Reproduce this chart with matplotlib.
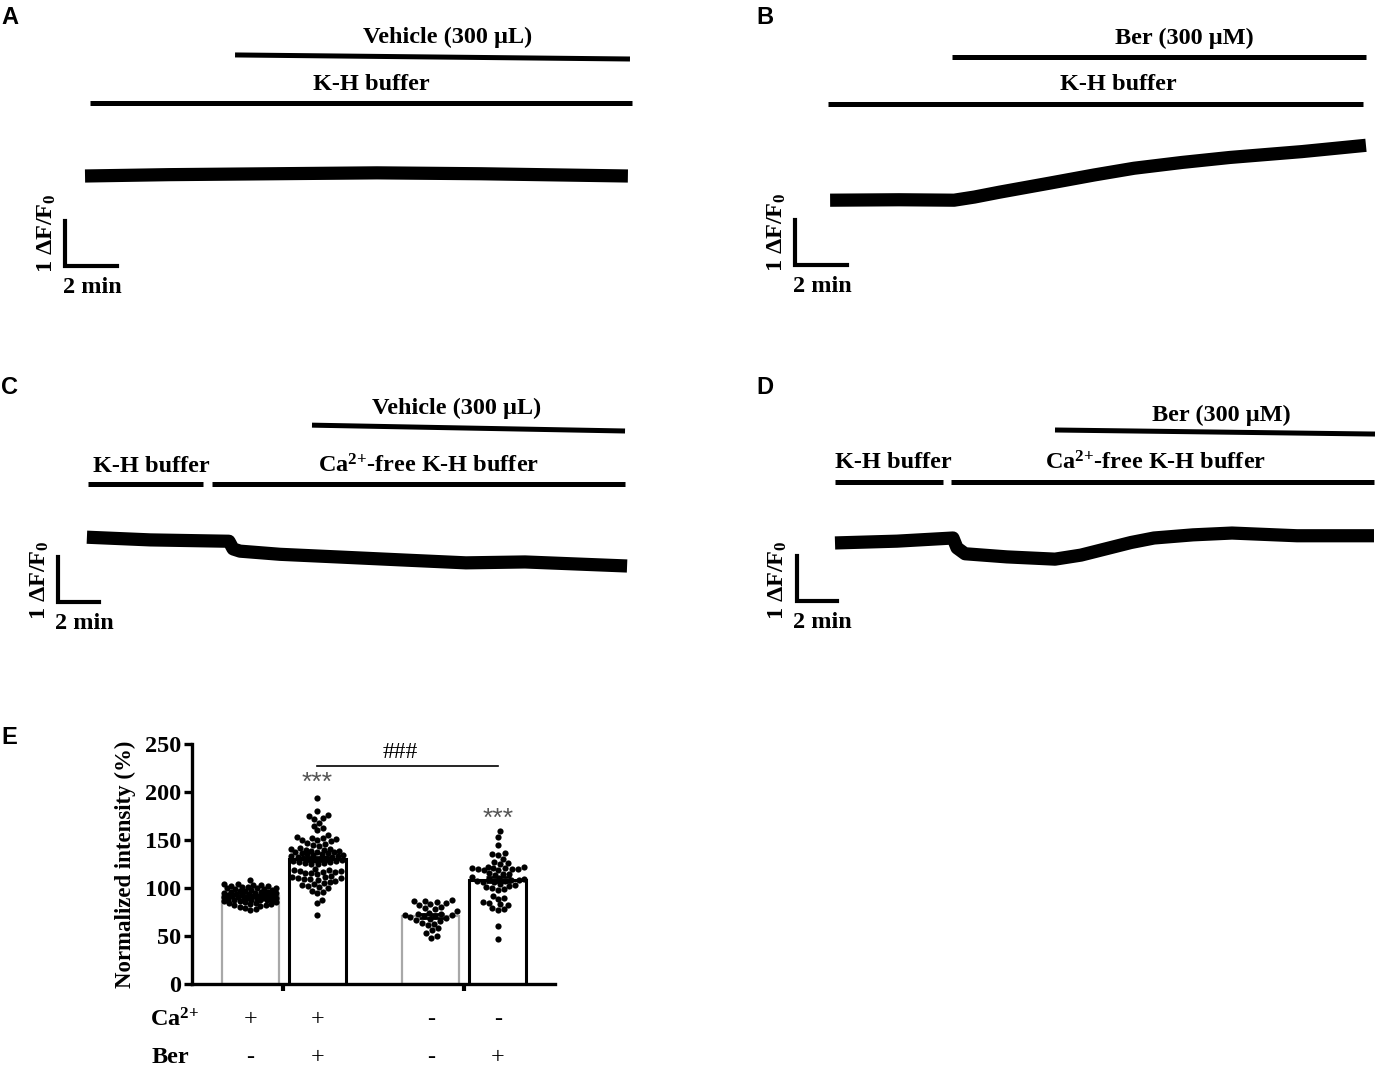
import numpy as np
import matplotlib
matplotlib.use('Agg')
import matplotlib.pyplot as plt

W, H = 1377, 1070

# traces: time (min) and dF/F0
trace_a_t = [0.77, 4.0, 8.0, 12.0, 16.0, 21.65]
trace_a_f = [2.00, 2.03, 2.05, 2.07, 2.05, 2.00]

trace_b_t = [1.35, 4.0, 6.12, 6.9, 7.88, 9.8, 11.5, 13.04, 14.9, 16.73, 19.5, 21.96]
trace_b_f = [1.44, 1.45, 1.44, 1.51, 1.62, 1.82, 2.0, 2.15, 2.28, 2.39, 2.52, 2.66]

trace_c_t = [1.41, 4.5, 8.34, 8.54, 8.88, 10.83, 13.7, 17.0, 19.9, 22.78, 27.76]
trace_c_f = [1.44, 1.38, 1.35, 1.18, 1.13, 1.06, 1.00, 0.93, 0.87, 0.89, 0.80]

trace_d_t = [1.9, 5.0, 7.8, 8.0, 8.4, 10.5, 12.9, 14.2, 15.45, 16.7, 17.85, 19.8, 21.75, 25.0, 28.85]
trace_d_f = [1.29, 1.33, 1.40, 1.18, 1.05, 0.98, 0.93, 1.02, 1.16, 1.30, 1.40, 1.47, 1.51, 1.45, 1.45]

# panel E: normalized intensity (%)
groups_e = ['Ca+ Ber-', 'Ca+ Ber+', 'Ca- Ber-', 'Ca- Ber+']
ca_signs = ['+', '+', '-', '-']
ber_signs = ['-', '+', '-', '+']
g1 = [108, 104, 104, 103, 103, 102, 102, 101, 101, 100, 100, 100, 99, 99, 98, 98,
      97, 97, 96, 96, 96, 95, 95, 95, 94, 94, 94, 93, 93, 93, 92, 92, 92, 91, 91,
      91, 90, 90, 90, 89, 89, 89, 88, 88, 88, 87, 87, 86, 86, 85, 85, 84, 84, 83,
      83, 82, 82, 81, 80, 79, 78, 77]
g2 = [194, 180, 176, 175, 173, 172, 168, 165, 162, 160,
      155, 153, 152, 152, 151, 150, 150, 149,
      147, 146, 145, 144,
      142, 141, 141, 140, 140, 139, 139, 138,
      137, 137, 136, 136, 135, 135, 134, 134,
      133, 133, 132, 132, 131, 131, 130, 130, 129, 129, 128, 128, 127, 127, 126, 126, 125, 125,
      120, 119, 119, 118, 118, 117, 117, 116, 116, 115,
      112, 111, 111, 110, 110, 109, 109, 108, 107, 106,
      105, 104, 103, 102, 101, 100,
      97, 96, 95,
      88, 84, 72]
g3 = [87, 86, 86, 85, 84, 83, 82, 80, 79, 78, 76, 74, 73, 73, 72, 72, 71, 71, 70,
      69, 68, 67, 66, 64, 63, 61, 58, 56, 53, 50, 48]
g4 = [159, 153, 145, 136, 135, 134, 130, 127, 126, 125,
      122, 122, 121, 121, 121, 120, 120, 120, 119, 119,
      116, 115, 115, 114,
      111, 110, 109, 109, 108, 108, 107, 107, 106, 106,
      104, 103, 102, 101, 100, 99, 98,
      92, 90, 89,
      85, 84, 83, 82,
      79, 78, 77,
      60, 47]
bar_pos = [0.0, 1.0, 2.69, 3.69]
y_ticks = [0, 50, 100, 150, 200, 250]

plt.rcParams['font.family'] = ['Liberation Serif', 'DejaVu Serif']
plt.rcParams['font.weight'] = 'bold'
plt.rcParams['axes.labelweight'] = 'bold'
plt.rcParams['mathtext.fontset'] = 'custom'
plt.rcParams['mathtext.rm'] = 'Liberation Serif:bold'
plt.rcParams['mathtext.it'] = 'Liberation Serif:bold'
plt.rcParams['mathtext.bf'] = 'Liberation Serif:bold'

fig = plt.figure(figsize=(W / 100, H / 100), dpi=100)
FS = 17.5


def trace_axes(box, corner, sx, sy):
    # box (left, top, right, bottom) px; corner = scale bar corner px
    l, t, r, b = box
    ax = fig.add_axes([l / W, 1 - b / H, (r - l) / W, (b - t) / H])
    ax.set_xlim((l - corner[0]) / sx, (r - corner[0]) / sx)
    ax.set_ylim((corner[1] - b) / sy, (corner[1] - t) / sy)
    ax.axis('off')
    return ax


def draw_panel(ax, t, f, bars, labels, sb_lbl):
    ax.plot(t, f, color='black', lw=9.5, solid_capstyle='butt', solid_joinstyle='round')
    for t0, t1, f0, f1 in bars:
        ax.plot([t0, t1], [f0, f1], color='black', lw=3.6, solid_capstyle='butt')
    for txt, x, y in labels:
        ax.text(x, y, txt, ha='center', va='center', fontsize=FS)
    # scale bar: 2 min x 1 dF/F0
    ax.plot([0, 0, 2], [1, 0, 0], color='black', lw=3, solid_joinstyle='miter')
    ax.text(sb_lbl[0], sb_lbl[1], r'1 ΔF/F$_0$', rotation=90, ha='center', va='center', fontsize=FS)
    ax.text(sb_lbl[2], sb_lbl[3], '2 min', ha='center', va='center', fontsize=FS)


CA_FREE = r'Ca$^{2{+}}$-free K-H buffer'

# A
ax_a = trace_axes((0, 0, 690, 330), (65, 266), 26.0, 45.0)
draw_panel(ax_a, trace_a_t, trace_a_f,
           [(6.54, 21.73, 4.69, 4.60), (0.96, 21.81, 3.62, 3.62)],
           [('Vehicle (300 μL)', 14.7, 5.07), ('K-H buffer', 11.8, 4.04)],
           (-0.69, 0.73, 1.04, -0.47))
# B
ax_b = trace_axes((690, 0, 1377, 330), (795, 265), 26.0, 45.0)
draw_panel(ax_b, trace_b_t, trace_b_f,
           [(6.04, 21.96, 4.62, 4.62), (1.27, 21.85, 3.58, 3.58)],
           [('Ber (300 μM)', 14.96, 5.04), ('K-H buffer', 12.42, 4.0)],
           (-0.69, 0.73, 1.04, -0.47))
# C
ax_c = trace_axes((0, 370, 690, 660), (58, 602), 20.5, 45.0)
draw_panel(ax_c, trace_c_t, trace_c_f,
           [(12.39, 27.66, 3.93, 3.80), (1.46, 7.07, 2.62, 2.62), (7.51, 27.66, 2.62, 2.62)],
           [('Vehicle (300 μL)', 19.46, 4.31), ('K-H buffer', 4.54, 3.02),
            (CA_FREE, 18.05, 3.02)],
           (-0.88, 0.49, 1.27, -0.47))
# D
ax_d = trace_axes((690, 370, 1377, 660), (797, 601), 20.0, 45.0)
draw_panel(ax_d, trace_d_t, trace_d_f,
           [(12.9, 28.9, 3.80, 3.71), (1.9, 7.3, 2.64, 2.64), (7.7, 28.85, 2.64, 2.64)],
           [('Ber (300 μM)', 21.2, 4.13), ('K-H buffer', 4.8, 3.07),
            (CA_FREE, 17.95, 3.07)],
           (-0.95, 0.47, 1.25, -0.47))

for lbl, x, y in [('A', 1, 18), ('B', 756, 18), ('C', 1, 388), ('D', 756, 388), ('E', 1, 737)]:
    fig.text(x / W, 1 - y / H, lbl, family='Liberation Sans', weight='bold',
             fontsize=17, ha='left', va='center')

# E
ax_e = fig.add_axes([192 / W, 1 - 984 / H, 363 / W, 240 / H])
ax_e.set_xlim(-0.866, 4.54)
ax_e.set_ylim(0, 250)
data_e = [g1, g2, g3, g4]
means = [np.mean(g) for g in data_e]
sems = [np.std(g, ddof=1) / np.sqrt(len(g)) for g in data_e]
edge_cols = ['#a8a8a8', 'black', '#a8a8a8', 'black']
edge_lw = [1.6, 2.2, 1.6, 2.2]
for p, m, ec, lw in zip(bar_pos, means, edge_cols, edge_lw):
    ax_e.bar(p, m, width=0.85, facecolor='white', edgecolor=ec, linewidth=lw, zorder=2)

px_x = ax_e.transData.transform((1, 0))[0] - ax_e.transData.transform((0, 0))[0]


def swarm(vals, d, maxw):
    ys = ax_e.transData.transform(np.column_stack([np.zeros(len(vals)), vals]))[:, 1]
    order = np.argsort(ys)
    placed = []
    offs = np.zeros(len(vals))
    for i in order:
        y = ys[i]
        cands = [0.0]
        for px, py in placed:
            dy = abs(py - y)
            if dy < d:
                dx = np.sqrt(d * d - dy * dy)
                cands += [px + dx, px - dx]
        cands = sorted(cands, key=abs)
        chosen = None
        for c in cands:
            if abs(c) > maxw:
                continue
            if all((c - px) ** 2 + (y - py) ** 2 >= d * d - 1e-6 for px, py in placed):
                chosen = c
                break
        if chosen is None:
            grid = np.linspace(-maxw, maxw, 41)
            score = [min([(g - px) ** 2 + (y - py) ** 2 for px, py in placed] + [1e9]) for g in grid]
            chosen = grid[int(np.argmax(score))]
        placed.append((chosen, y))
        offs[i] = chosen
    return offs / px_x


for p, g, d in zip(bar_pos, data_e, [5.5, 6.0, 6.5, 6.0]):
    xo = swarm(g, d, 26)
    ax_e.scatter(p + xo, g, s=20, color='black', linewidths=0, zorder=3)

ax_e.errorbar(bar_pos, means, yerr=sems, fmt='none', ecolor='black', elinewidth=2,
              capsize=9, capthick=2, zorder=4)

for s in ['top', 'right']:
    ax_e.spines[s].set_visible(False)
for s in ['left', 'bottom']:
    ax_e.spines[s].set_linewidth(2.4)
ax_e.set_yticks(y_ticks)
ax_e.set_yticklabels([str(v) for v in y_ticks], fontsize=FS, fontweight='bold')
ax_e.tick_params(axis='y', length=6, width=2.4, pad=2)
ax_e.set_xticks([0.49, 3.19])
ax_e.set_xticklabels([])
ax_e.tick_params(axis='x', length=5, width=3)
ax_e.set_ylabel('Normalized intensity (%)', fontsize=16.5, fontweight='bold', labelpad=6)

ax_e.text(-1.12, -37.5, r'Ca$^{2{+}}$', ha='center', va='center', fontsize=FS, clip_on=False)
ax_e.text(-1.19, -77, 'Ber', ha='center', va='center', fontsize=FS, clip_on=False)
for p, c, b in zip(bar_pos, ca_signs, ber_signs):
    ax_e.text(p, -37.5, c, ha='center', va='center', fontsize=FS, fontweight='normal', clip_on=False)
    ax_e.text(p, -77, b, ha='center', va='center', fontsize=FS, fontweight='normal', clip_on=False)

ax_e.text(bar_pos[1], 210, '***', ha='center', va='center', fontsize=19,
          color='#555555', fontweight='normal', family='Liberation Sans')
ax_e.text(bar_pos[3], 172, '***', ha='center', va='center', fontsize=19,
          color='#555555', fontweight='normal', family='Liberation Sans')
ax_e.plot([bar_pos[1], bar_pos[3]], [227, 227], color='black', lw=1.2, clip_on=False)
ax_e.text(2.24, 241, '###', ha='center', va='center', fontsize=17, fontweight='normal', clip_on=False)

fig.savefig('out.png', dpi=100)
